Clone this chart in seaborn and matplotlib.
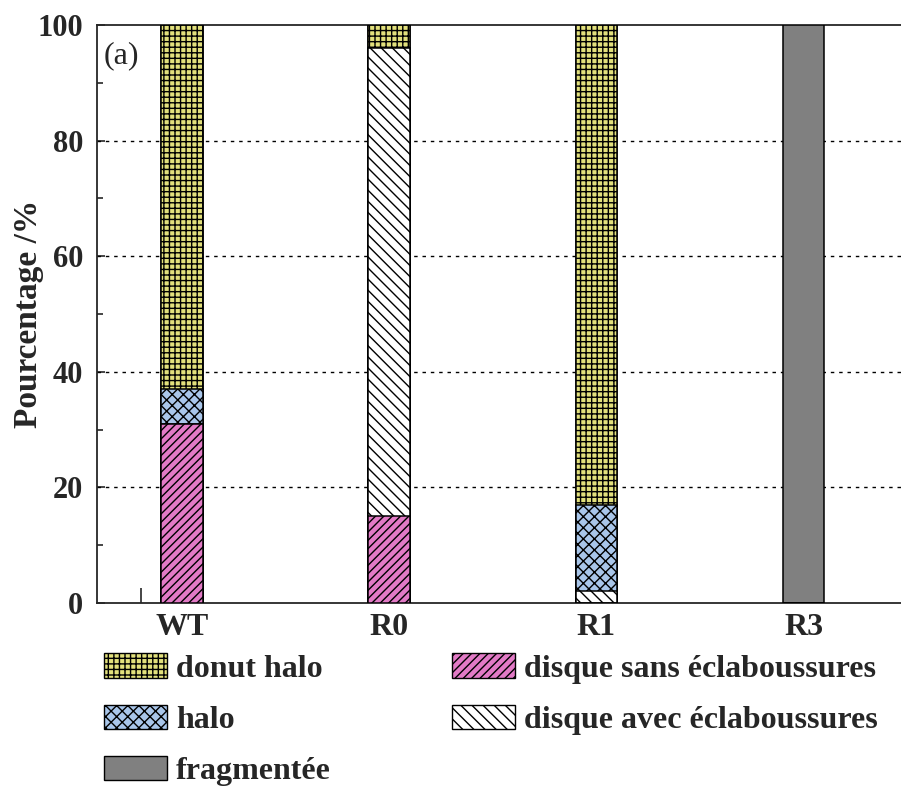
import numpy as np
import pandas as pd
import seaborn as sns
import matplotlib.pyplot as plt
from matplotlib.patches import Patch

sns.set_style("ticks")
plt.rcParams['font.family'] = ['Liberation Serif', 'DejaVu Serif']
plt.rcParams['font.weight'] = 'bold'
plt.rcParams['hatch.linewidth'] = 1.0

# data (percent), stacked bottom -> top
categories = ['WT', 'R0', 'R1', 'R3']
disque_sans = [31, 15, 0, 0]
disque_avec = [0, 81, 2, 0]
halo = [6, 0, 15, 0]
donut_halo = [63, 4, 83, 0]
fragmentee = [0, 0, 0, 100]

labels = ['disque sans éclaboussures', 'disque avec éclaboussures', 'halo',
          'donut halo', 'fragmentée']
series = [disque_sans, disque_avec, halo, donut_halo, fragmentee]
colors = ['#e27ac6', '#ffffff', '#a9c6ea', '#e2e07c', '#808080']
hatches = ['////', '\\\\\\', 'xxx', '+++', '']

cum = np.cumsum(np.array(series), axis=0)

fig = plt.figure(figsize=(9.01, 7.89), dpi=100)
ax = fig.add_axes([0.1077, 0.2357, 0.8923, 0.7326])

# draw cumulative bars from top layer down so lower layers overlay
for i in reversed(range(len(series))):
    df = pd.DataFrame({'cat': categories, 'val': cum[i]})
    sns.barplot(data=df, x='cat', y='val', ax=ax, color=colors[i], saturation=1,
                width=0.2, edgecolor='black', linewidth=1.1, hatch=hatches[i],
                zorder=3)

ax.set_xlim(-0.41, 3.47)
ax.set_ylim(0, 100)
ax.set_yticks([0, 20, 40, 60, 80, 100])
ax.set_yticks([10, 30, 50, 70, 90], minor=True)
ax.set_xticks([-0.2], minor=True)
ax.tick_params(axis='y', which='major', direction='in', length=6, width=1.2,
               labelsize=22, pad=10)
ax.tick_params(axis='y', which='minor', direction='in', length=4, width=1.2)
ax.tick_params(axis='x', which='major', length=0, labelsize=23, pad=7)
ax.tick_params(axis='x', which='minor', direction='in', length=11, width=1.2)
ax.set_xlabel('')
ax.set_ylabel('Pourcentage /%', fontsize=24, fontweight='bold', labelpad=-5)

for y in [20, 40, 60, 80]:
    ax.axhline(y, color='black', lw=1, linestyle=(0, (2.5, 3.5)), zorder=1)

ax.spines['right'].set_visible(False)
for s in ['left', 'top', 'bottom']:
    ax.spines[s].set_linewidth(1.3)

ax.text(0.008, 0.972, '(a)', transform=ax.transAxes, fontsize=23,
        fontweight='normal', va='top', ha='left')

order = [3, 2, 4, 0, 1]
handles = [Patch(facecolor=colors[i], edgecolor='black', hatch=hatches[i],
                 label=labels[i]) for i in order]
fig.legend(handles=handles, ncol=2, loc='upper left',
           bbox_to_anchor=(0.115, 0.172), frameon=False,
           prop={'family': 'Liberation Serif', 'weight': 'bold', 'size': 23},
           handlelength=1.97, handleheight=0.79, handletextpad=0.29,
           labelspacing=0.66, columnspacing=3.8, borderpad=0, borderaxespad=0)

fig.savefig('out.png', dpi=100)
